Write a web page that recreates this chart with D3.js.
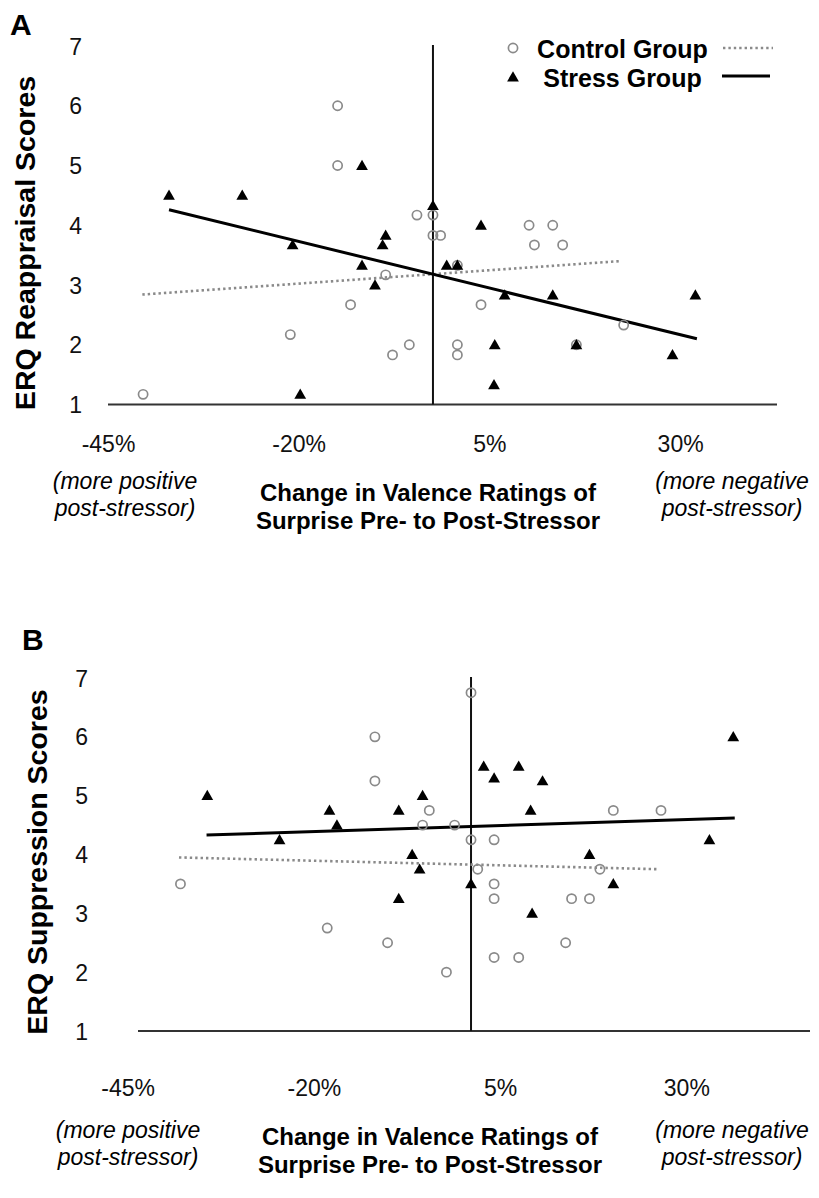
<!DOCTYPE html>
<html><head><meta charset="utf-8">
<script src="https://cdn.jsdelivr.net/npm/d3@7"></script>
<style>html,body{margin:0;padding:0;background:#fff;} svg{display:block;}</style>
</head><body>
<svg id="chart" width="819" height="1198"></svg>
<script>
// ---------------- data ----------------
const yTickValues = [1, 2, 3, 4, 5, 6, 7];
const xTickValues = [-45, -20, 5, 30];
const xTickLabels = ["-45%", "-20%", "5%", "30%"];
const legendLabels = ["Control Group", "Stress Group"];
const xTitleLines = ["Change in Valence Ratings of", "Surprise Pre- to Post-Stressor"];
const leftNote = ["(more positive", "post-stressor)"];
const rightNote = ["(more negative", "post-stressor)"];

// Panel A: ERQ Reappraisal  [change %, score]
const reappControl = [[-40.4,1.17],[-21.1,2.17],[-14.9,6.0],[-14.9,5.0],[-13.2,2.67],[-8.6,3.17],
  [-7.7,1.83],[-5.5,2.0],[-4.5,4.17],[-2.4,4.17],[-2.4,3.83],[-1.4,3.83],[0.8,3.33],[0.8,2.0],
  [0.8,1.83],[3.9,2.67],[10.2,4.0],[13.3,4.0],[10.9,3.67],[14.6,3.67],[16.4,2.0],[22.6,2.33]];
const reappStress = [[-37.0,4.5],[-27.4,4.5],[-11.7,5.0],[-2.4,4.33],[-8.6,3.83],[-9.0,3.67],
  [-20.8,3.67],[-11.7,3.33],[-10.0,3.0],[-19.8,1.17],[3.9,4.0],[-0.6,3.33],[0.8,3.33],[7.0,2.83],
  [13.3,2.83],[32.0,2.83],[5.7,2.0],[16.4,2.0],[29.0,1.83],[5.6,1.33]];
const reappControlTrend = [[-40.5,2.84],[22.1,3.40]];
const reappStressTrend = [[-37.0,4.26],[32.2,2.10]];

// Panel B: ERQ Suppression  [change %, score]
const suppControl = [[-11.8,6.0],[-11.8,5.25],[-4.5,4.75],[-5.4,4.5],[-1.1,4.5],[1.1,4.25],
  [-37.9,3.5],[-18.2,2.75],[-10.1,2.5],[-2.2,2.0],[1.1,6.75],[4.2,4.25],[2.0,3.75],[4.2,3.5],
  [4.2,3.25],[18.4,3.75],[14.6,3.25],[17.0,3.25],[13.8,2.5],[4.2,2.25],[7.5,2.25],[20.2,4.75],[26.6,4.75]];
const suppStress = [[-34.3,5.0],[-17.9,4.75],[-16.9,4.5],[-24.6,4.25],[-8.6,4.75],[-5.4,5.0],
  [-6.8,4.0],[-5.8,3.75],[-8.6,3.25],[1.1,3.5],[2.8,5.5],[4.2,5.3],[7.5,5.5],[10.7,5.25],
  [9.1,4.75],[17.0,4.0],[20.2,3.5],[9.3,3.0],[33.1,4.25],[36.3,6.0]];
const suppControlTrend = [[-38.1,3.95],[26.3,3.75]];
const suppStressTrend = [[-34.4,4.33],[36.5,4.62]];

// ---------------- drawing ----------------
const FONT = '"Liberation Sans", Arial, Helvetica, sans-serif';
const svg = d3.select("#chart");
const GREY = "#8a8a8a";

function drawPanel(o) {
  const g = svg.append("g");
  const x = d3.scaleLinear().domain(o.xDomain).range(o.xRange);
  const y = d3.scaleLinear().domain([1, 7]).range(o.yRange);

  // panel letter
  g.append("text").attr("x", o.letterPos[0]).attr("y", o.letterPos[1])
    .attr("font-family", FONT).attr("font-weight", "bold").attr("font-size", 30).text(o.letter);

  // y axis labels
  const ya = g.append("g").attr("transform", `translate(${o.yLabelX},0)`)
    .call(d3.axisLeft(y).tickValues(yTickValues).tickSize(0).tickPadding(0).tickFormat(d3.format("d")));
  ya.select(".domain").remove();
  ya.attr("font-family", null).attr("font-size", null);
  ya.selectAll("text").attr("font-family", FONT).attr("font-size", 23).attr("fill", "#111").attr("dy", "0.35em");

  // x axis labels
  const xa = g.append("g").attr("transform", `translate(0,${o.xLabelY})`)
    .call(d3.axisBottom(x).tickValues(xTickValues).tickSize(0).tickPadding(0).tickFormat((d, i) => xTickLabels[i]));
  xa.select(".domain").remove();
  xa.attr("font-family", null).attr("font-size", null);
  xa.selectAll("text").attr("font-family", FONT).attr("font-size", 23).attr("fill", "#111").attr("dy", 0);

  // y title
  g.append("text").attr("transform", `translate(${o.yTitlePos[0]},${o.yTitlePos[1]}) rotate(-90)`)
    .attr("text-anchor", "middle").attr("dy", "0.35em")
    .attr("font-family", FONT).attr("font-weight", "bold").attr("font-size", 28.5).text(o.yTitle);

  // x title and notes
  xTitleLines.forEach((t, i) => g.append("text").attr("x", o.xTitleX).attr("y", o.xTitleY[i])
    .attr("text-anchor", "middle").attr("font-family", FONT).attr("font-weight", "bold").attr("font-size", 24).text(t));
  leftNote.forEach((t, i) => g.append("text").attr("x", o.leftNoteX).attr("y", o.noteY[i])
    .attr("text-anchor", "middle").attr("font-family", FONT).attr("font-style", "italic").attr("font-size", 23).text(t));
  rightNote.forEach((t, i) => g.append("text").attr("x", o.rightNoteX).attr("y", o.noteY[i])
    .attr("text-anchor", "middle").attr("font-family", FONT).attr("font-style", "italic").attr("font-size", 23).text(t));

  // axis lines
  g.append("line").attr("x1", o.xRange[0]).attr("x2", o.xRange[1]).attr("y1", y(1)).attr("y2", y(1))
    .attr("stroke", "#333").attr("stroke-width", 2);
  g.append("line").attr("x1", x(o.cross)).attr("x2", x(o.cross)).attr("y1", y(1)).attr("y2", y(7) - 1)
    .attr("stroke", "#111").attr("stroke-width", 2);

  const line = d3.line().x(d => x(d[0])).y(d => y(d[1]));
  // trend lines
  g.append("path").attr("d", line(o.controlTrend)).attr("fill", "none")
    .attr("stroke", GREY).attr("stroke-width", 2.6).attr("stroke-dasharray", "2.4,3");
  g.append("path").attr("d", line(o.stressTrend)).attr("fill", "none")
    .attr("stroke", "#000").attr("stroke-width", 3);

  // control circles
  g.selectAll(".ctrl").data(o.control).join("circle").attr("class", "ctrl")
    .attr("cx", d => x(d[0])).attr("cy", d => y(d[1])).attr("r", 4.6)
    .attr("fill", "none").attr("stroke", GREY).attr("stroke-width", 1.7);
  // stress triangles
  const tri = d3.symbol().type(d3.symbolTriangle).size(60);
  g.selectAll(".str").data(o.stress).join("path").attr("class", "str")
    .attr("transform", d => `translate(${x(d[0])},${y(d[1]) + 1})`).attr("d", tri).attr("fill", "#000");
  return g;
}

drawPanel({
  letter: "A", letterPos: [10, 35],
  xDomain: [-45, 42.7], xRange: [108, 777], yRange: [404.5, 46], cross: -2.4,
  yLabelX: 82, xLabelY: 452, yTitle: "ERQ Reappraisal Scores", yTitlePos: [25, 243],
  xTitleX: 428, xTitleY: [501, 528.5], leftNoteX: 125, rightNoteX: 732, noteY: [489, 516],
  control: reappControl, stress: reappStress,
  controlTrend: reappControlTrend, stressTrend: reappStressTrend
});

drawPanel({
  letter: "B", letterPos: [22, 650],
  xDomain: [-43.6, 46.6], xRange: [138, 810], yRange: [1031, 678], cross: 1.1,
  yLabelX: 88, xLabelY: 1096, yTitle: "ERQ Suppression Scores", yTitlePos: [37, 862],
  xTitleX: 430, xTitleY: [1145, 1172.5], leftNoteX: 128, rightNoteX: 732, noteY: [1138, 1165],
  control: suppControl, stress: suppStress,
  controlTrend: suppControlTrend, stressTrend: suppStressTrend
});

// legend (panel A)
const lg = svg.append("g");
const legendY = [48, 77];
lg.append("circle").attr("cx", 513).attr("cy", legendY[0]).attr("r", 4.6)
  .attr("fill", "none").attr("stroke", GREY).attr("stroke-width", 1.7);
lg.append("path").attr("transform", `translate(513,${legendY[1] + 1})`)
  .attr("d", d3.symbol().type(d3.symbolTriangle).size(60)).attr("fill", "#000");
legendLabels.forEach((t, i) => lg.append("text").attr("x", 622.5).attr("y", legendY[i] + 10)
  .attr("text-anchor", "middle").attr("font-family", FONT).attr("font-weight", "bold").attr("font-size", 25).text(t));
lg.append("line").attr("x1", 723).attr("x2", 773).attr("y1", legendY[0]).attr("y2", legendY[0])
  .attr("stroke", GREY).attr("stroke-width", 2.6).attr("stroke-dasharray", "2.4,3");
lg.append("line").attr("x1", 722).attr("x2", 770).attr("y1", legendY[1] - 1).attr("y2", legendY[1] - 1)
  .attr("stroke", "#000").attr("stroke-width", 3);
</script>
</body></html>
